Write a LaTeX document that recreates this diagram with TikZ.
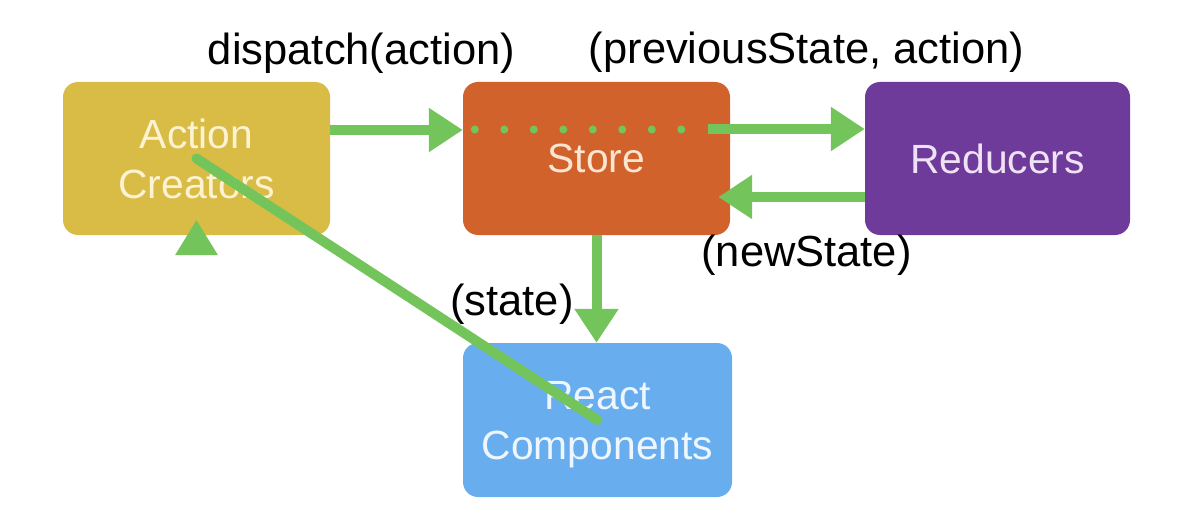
\documentclass[tikz,border=0pt]{standalone}
\usepackage{fontspec}
\setmainfont{Liberation Sans}
\usetikzlibrary{arrows.meta}
\definecolor{acfill}{HTML}{D9BC45}
\definecolor{stfill}{HTML}{D2622B}
\definecolor{rdfill}{HTML}{6E3B9A}
\definecolor{rcfill}{HTML}{68AEEE}
\definecolor{flow}{HTML}{73C45A}
\definecolor{actext}{HTML}{FDF3D2}
\definecolor{sttext}{HTML}{FBE6D2}
\definecolor{rdtext}{HTML}{F0E2F5}
\definecolor{rctext}{HTML}{EEF6FF}
\tikzset{
  box/.style={rounded corners=15pt, inner sep=0pt, align=center,
    font=\fontsize{40.8}{50}\selectfont, text depth=0pt},
  lbl/.style={anchor=base, inner sep=0pt, font=\fontsize{43.5}{50}\selectfont, text=black},
  flowarrow/.style={draw=flow, line width=10pt, -{Triangle[length=34pt,width=42pt]}, color=flow},
  flowline/.style={draw=flow, line width=10pt, line cap=round},
}
\begin{document}
\begin{tikzpicture}[x=1pt,y=-1pt]
\useasboundingbox (0,0) rectangle (1200,508);
\fill[white] (0,0) rectangle (1200,508);
% boxes
\node[box, fill=acfill, text=actext, minimum width=267pt, minimum height=153pt] (ac) at (196.5,158.5) {Action\\Creators};
\node[box, fill=stfill, text=sttext, minimum width=267pt, minimum height=153pt] (store) at (596.5,158.5) {Store};
\node[box, fill=rdfill, text=rdtext, minimum width=265pt, minimum height=153pt] (red) at (997.5,158.5) {Reducers};
\node[box, fill=rcfill, text=rctext, minimum width=269pt, minimum height=154pt] (react) at (597.5,420) {React\\Components};
% labels
\node[lbl] (ldispatch) at (361.5,65) {dispatch(action)};
\node[lbl] (lprev) at (806.5,64) {(previousState, action)};
\node[lbl] (lnew) at (806.5,266) {(newState)};
\node[lbl] (lstate) at (512,315) {(state)};
% connectors
\draw[flowarrow] ([yshift=28.5pt]ac.east) -- ([yshift=28.5pt]store.west);
\foreach \i in {0,...,7} {
  \fill[flow] ([xshift={12pt+29.5pt*\i}, yshift=29pt]store.west) circle (4pt);
}
\draw[flowarrow] ([xshift=-22pt, yshift=29.5pt]store.east) -- ([yshift=29.5pt]red.west);
\draw[flowarrow] ([yshift=-38.5pt]red.west) -- ([xshift=-12pt, yshift=-38.5pt]store.east);
\draw[flowarrow] (store.south) -- (store.south |- react.north);
\draw[flowline] (ac.center) -- (react.center);
\fill[flow] ([xshift=-21.5pt, yshift=-20pt]ac.south) -- ([xshift=21.5pt, yshift=-20pt]ac.south) -- ([yshift=15pt]ac.south) -- cycle;
\end{tikzpicture}
\end{document}
